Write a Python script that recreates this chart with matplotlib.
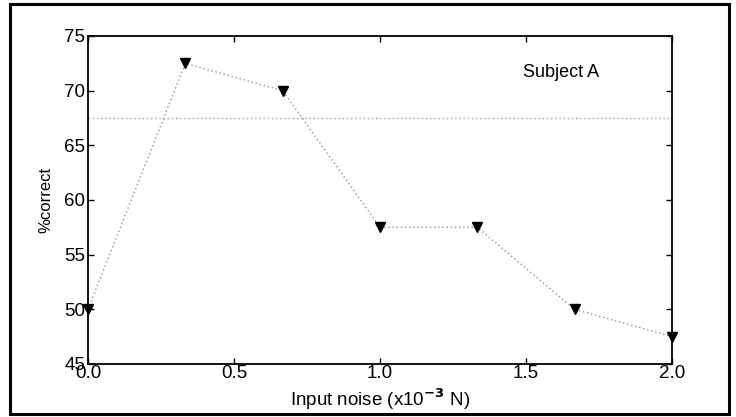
import matplotlib
matplotlib.use("Agg")
import matplotlib.pyplot as plt
from matplotlib.patches import Rectangle

plt.rcParams['font.family'] = ['Liberation Sans', 'DejaVu Sans']

noise = [0.0, 1/3, 2/3, 1.0, 4/3, 5/3, 2.0]
pct_correct = [50.0, 72.5, 70.0, 57.5, 57.5, 50.0, 47.5]
chance_level = 67.5
x_ticks = [0.0, 0.5, 1.0, 1.5, 2.0]
y_ticks = [45, 50, 55, 60, 65, 70, 75]

fig = plt.figure(figsize=(7.36, 4.17), dpi=100)
ax = fig.add_axes([88/736, 1-364/417, (672-88)/736, (364-36)/417])

ax.axhline(chance_level, color='#a0a0a0', linestyle=(0, (1, 2)), linewidth=1.0)
ax.plot(noise, pct_correct, color='#909090', linestyle=(0, (1, 2)), linewidth=1.0,
        marker='v', markersize=6.5, markerfacecolor='black', markeredgecolor='black',
        clip_on=False, zorder=3)

ax.set_xlim(0, 2)
ax.set_ylim(45, 75)
ax.set_xticks(x_ticks)
ax.set_xticklabels([f"{t:.1f}" for t in x_ticks])
ax.set_yticks(y_ticks)
ax.tick_params(direction='in', top=True, right=True, length=4, width=1,
               labelsize=13.5, pad=2)
ax.tick_params(axis='x', pad=1)
for s in ax.spines.values():
    s.set_linewidth(1.3)

ax.set_xlabel(r"Input noise (x10$^{\mathbf{-3}}$ N)", fontsize=13.5, labelpad=3)
ax.set_ylabel("%correct", fontsize=12, labelpad=8)
ax.text(1.62, 71.7, "Subject A", fontsize=13, ha='center', va='center')

fig.patches.append(Rectangle((10/736, 3/417), 719/736, 410/417,
                             transform=fig.transFigure, fill=False,
                             edgecolor='black', linewidth=2.2))

fig.savefig("out.png", dpi=100)
